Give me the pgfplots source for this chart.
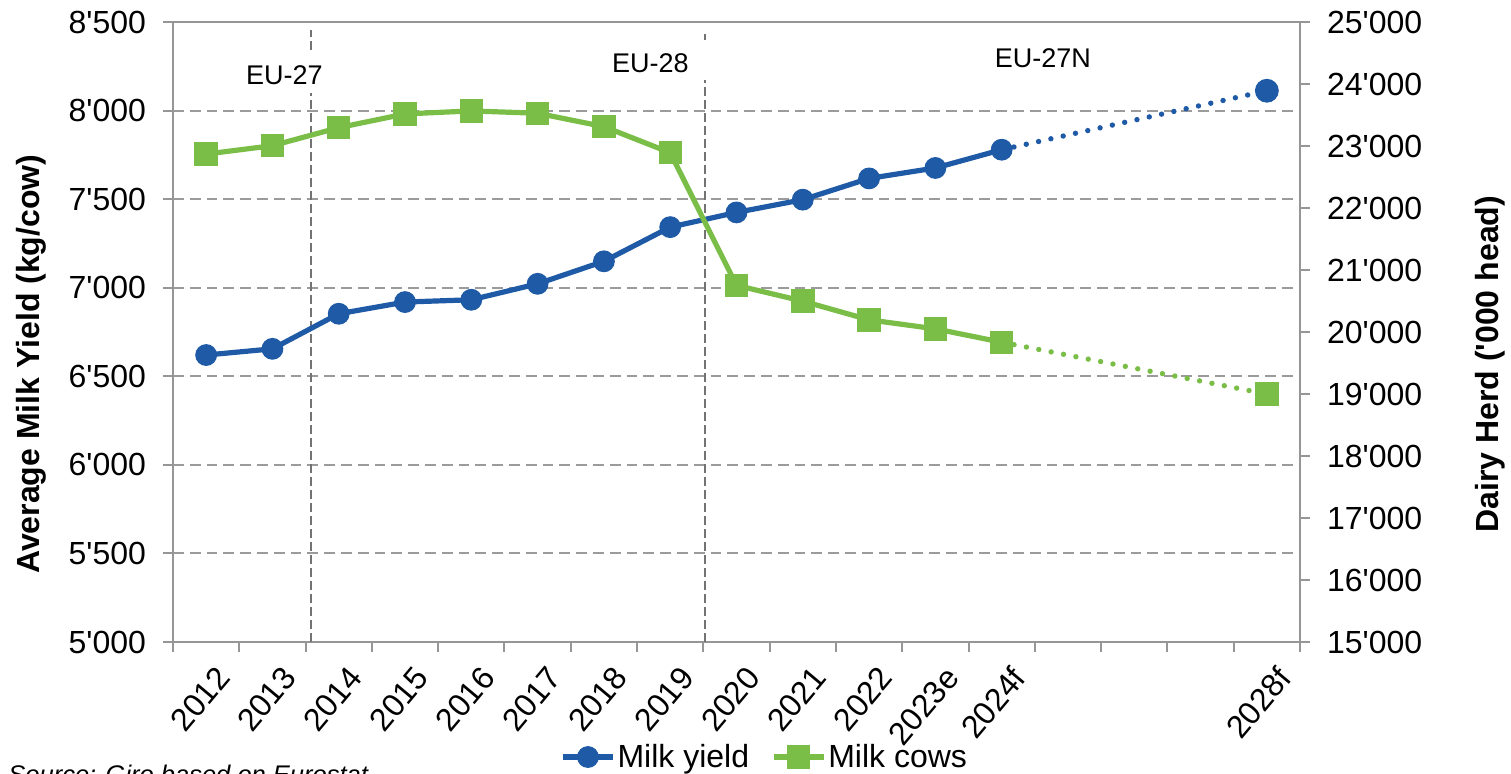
\documentclass[border=0pt]{standalone}
\usepackage{fontspec}
\setmainfont{Liberation Sans}
\usepackage{pgfplots}
\usepackage{pgfplotstable}
\pgfplotsset{compat=1.18}

\definecolor{yieldblue}{RGB}{30,90,165}
\definecolor{cowgreen}{RGB}{122,190,72}
\definecolor{gridgray}{RGB}{155,155,155}
\definecolor{axisgray}{RGB}{150,150,150}
\definecolor{bordergray}{RGB}{115,115,115}

% Average milk yield, kg per cow (x: 0 = 2012 ... 12 = 2024f)
\pgfplotstableread{
x yield
0  6620
1  6655
2  6853
3  6919
4  6932
5  7022
6  7149
7  7342
8  7425
9  7497
10 7617
11 7676
12 7779
}\yieldtable

% Dairy herd, thousand head
\pgfplotstableread{
x cows
0  22870
1  23005
2  23296
3  23517
4  23566
5  23528
6  23312
7  22892
8  20752
9  20498
10 20196
11 20051
12 19835
}\cowtable

\pgfplotsset{
  chartbase/.style={
    scale only axis,
    width=563.5pt, height=310pt,
    at={(86.5pt,65.5pt)}, anchor=south west,
    xmin=-0.5, xmax=16.5,
    tick align=outside,
    major tick length=5pt,
    minor tick length=5pt,
    axis line style={axisgray, line width=1pt},
    every tick/.style={axisgray, line width=1pt},
    tick label style={font=\fontsize{16}{19}\selectfont},
    label style={font=\bfseries\fontsize{16}{19}\selectfont},
    scaled y ticks=false,
    /pgf/number format/.cd, 1000 sep={\textquotesingle}, assume math mode=true,
  },
  legimg/.style={
    legend image code/.code={
      \draw[mark repeat=2, mark phase=2] plot coordinates {(0pt,0pt) (12.5pt,0pt) (25pt,0pt)};
    }
  },
}

\begin{document}
\begin{tikzpicture}
% left axis: milk yield
\begin{axis}[chartbase,
  ymin=5000, ymax=8500,
  ytick={5000,5500,...,8500},
  tick pos=left,
  yticklabel style={xshift=-5pt},
  xtick={0,1,2,3,4,5,6,7,8,9,10,11,12,16},
  xticklabels={2012,2013,2014,2015,2016,2017,2018,2019,2020,2021,2022,2023e,2024f,2028f},
  major x tick style={draw=none},
  minor xtick={-0.5,0.5,...,16.5},
  xticklabel style={rotate=50, anchor=north east, inner sep=1pt, yshift=-6pt, xshift=-1pt},
  ymajorgrids,
  major grid style={gridgray, line width=1pt, dash pattern=on 5.4pt off 3pt},
  ylabel={Average Milk Yield (kg/cow)},
  ylabel style={at={(axis description cs:-0.126,0.448)}, anchor=center},
]
% region boundaries
\draw[bordergray, line width=0.9pt, dash pattern=on 4.5pt off 2pt]
  (axis cs:1.58,5000) -- (axis cs:1.58,8099)
  (axis cs:1.58,8342) -- (axis cs:1.58,8455);
\draw[bordergray, line width=0.9pt, dash pattern=on 4.5pt off 2pt]
  (axis cs:7.53,5000) -- (axis cs:7.53,8173)
  (axis cs:7.53,8398) -- (axis cs:7.53,8430);
\node[font=\fontsize{13.5}{16}\selectfont] at (axis cs:1.18,8201) {EU-27};
\node[font=\fontsize{13.5}{16}\selectfont] at (axis cs:6.70,8269) {EU-28};
\node[font=\fontsize{13.5}{16}\selectfont] at (axis cs:12.62,8297) {EU-27N};

\addplot[yieldblue, line width=2.6pt, mark=*, mark size=5.2pt,
  mark options={solid, line width=0.5pt}] table[x=x, y=yield] {\yieldtable};
\addplot[yieldblue, line width=2.7pt, line cap=round, dash pattern=on 0pt off 6.3pt]
  coordinates {(12,7779) (16,8112)};
\addplot[yieldblue, only marks, mark=*, mark size=5.7pt, mark options={line width=0.5pt}]
  coordinates {(16,8112)};
\end{axis}

% right axis: dairy herd
\begin{axis}[chartbase,
  ymin=15000, ymax=25000,
  ytick={15000,16000,...,25000},
  yticklabel style={xshift=5pt},
  hide x axis,
  axis y line*=right,
  ylabel={Dairy Herd (\textquotesingle000 head)},
  ylabel style={at={(axis description cs:1.1686,0.448)}, anchor=center},
  legend columns=-1,
  legend style={at={(0.525,-0.1855)}, anchor=center, draw=none, fill=none,
    font=\fontsize{16}{19}\selectfont,
    /tikz/every even column/.append style={column sep=10pt},
    nodes={inner sep=1pt}},
]
\addlegendimage{legimg, yieldblue, line width=2.6pt, mark=*, mark size=5.2pt, mark options={solid, line width=0.5pt}}
\addlegendentry{Milk yield}
\addplot[legimg, cowgreen, line width=2.6pt, mark=square*, mark size=5.6pt,
  mark options={solid, line width=0.5pt}] table[x=x, y=cows] {\cowtable};
\addlegendentry{Milk cows}
\addplot[cowgreen, line width=2.7pt, line cap=round, dash pattern=on 0pt off 6.3pt, forget plot]
  coordinates {(12,19835) (16,19000)};
\addplot[cowgreen, only marks, mark=square*, mark size=5.6pt, mark options={line width=0.5pt}, forget plot]
  coordinates {(16,19000)};
\end{axis}

\node[anchor=base west, inner sep=0pt, font=\itshape\fontsize{12.75}{15}\selectfont]
  at (4pt,-5.1pt) {Source: Giro based on Eurostat};

\pgfresetboundingbox
\useasboundingbox (0,0) rectangle (755.5pt,386.5pt);
\end{tikzpicture}
\end{document}
